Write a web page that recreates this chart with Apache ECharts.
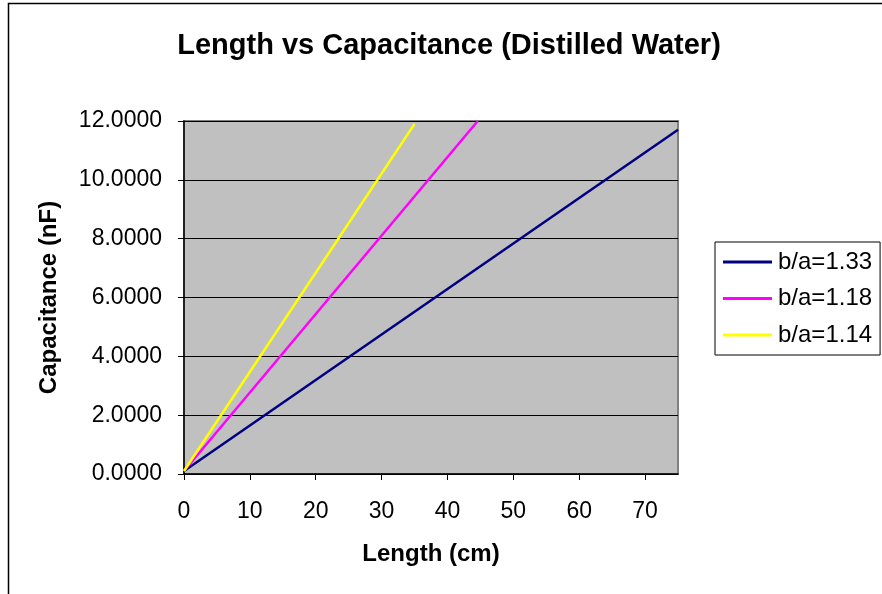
<!DOCTYPE html>
<html><head><meta charset="utf-8">
<script src="https://cdn.jsdelivr.net/npm/echarts@6/dist/echarts.min.js"></script>
<style>html,body{margin:0;padding:0;background:#fff}#c{width:882px;height:594px}</style>
</head><body><div id="c"></div>
<script>
const seriesNames = ['b/a=1.33', 'b/a=1.18', 'b/a=1.14'];
const lengths133 = [0, 75];
const cap133 = [0.1, 11.7];
const lengths118 = [0, 44.6];
const cap118 = [0.1, 12.0];
const lengths114 = [0, 35.0];
const cap114 = [0.1, 11.9];
const colors = ['#000080', '#ff00ff', '#ffff00'];

const pairs = (xs, ys) => xs.map((x, i) => [x, ys[i]]);
const dataSets = [pairs(lengths133, cap133), pairs(lengths118, cap118), pairs(lengths114, cap114)];
const font = '"Liberation Sans", Arial, sans-serif';

const chart = echarts.init(document.getElementById('c'), null, {renderer: 'canvas'});
chart.setOption({
  animation: false,
  textStyle: {fontFamily: font},
  title: {
    text: 'Length vs Capacitance (Distilled Water)',
    left: 444, textAlign: 'center', top: 26,
    textStyle: {fontFamily: font, fontSize: 29, fontWeight: 'bold', color: '#000'}
  },
  graphic: [{
    type: 'rect', left: 6, top: 1, silent: true,
    shape: {x: 0, y: 0, width: 900, height: 700},
    style: {fill: 'none', stroke: '#000', lineWidth: 1.5}
  }],
  grid: {left: 184, top: 121, width: 494, height: 353, show: true,
         backgroundColor: '#c0c0c0', borderColor: '#808080', borderWidth: 2},
  legend: {
    orient: 'vertical', left: 715, top: 242,
    data: seriesNames,
    icon: 'rect',
    itemWidth: 49, itemHeight: 3, itemGap: 12.5,
    padding: [8, 8, 8, 8],
    borderColor: '#000', borderWidth: 1, backgroundColor: '#fff',
    textStyle: {fontFamily: font, fontSize: 24, color: '#000', padding: [0, 0, 0, 1]}
  },
  xAxis: {
    type: 'value', min: 0, max: 75, interval: 10,
    name: 'Length (cm)', nameLocation: 'middle', nameGap: 68,
    nameTextStyle: {fontFamily: font, fontSize: 24, fontWeight: 'bold', color: '#000'},
    axisLine: {lineStyle: {color: '#000', width: 1.5}},
    axisTick: {show: true, length: 6, lineStyle: {color: '#000'}},
    axisLabel: {fontFamily: font, fontSize: 23, color: '#000', margin: 26, showMaxLabel: false},
    splitLine: {show: false}
  },
  yAxis: {
    type: 'value', min: 0, max: 12, interval: 2,
    name: 'Capacitance (nF)', nameLocation: 'middle', nameGap: 123, nameRotate: 90,
    nameTextStyle: {fontFamily: font, fontSize: 24, fontWeight: 'bold', color: '#000'},
    axisLine: {lineStyle: {color: '#000', width: 1.5}},
    axisTick: {show: true, length: 6, lineStyle: {color: '#000'}},
    axisLabel: {fontFamily: font, fontSize: 23, color: '#000', margin: 22,
                formatter: v => v.toFixed(4)},
    splitLine: {show: true, lineStyle: {color: '#000', width: 1}}
  },
  series: seriesNames.map((n, i) => ({
    name: n, type: 'line', data: dataSets[i], symbol: 'none', showSymbol: false,
    lineStyle: {color: colors[i], width: 2.5}, itemStyle: {color: colors[i]}
  }))
});
</script></body></html>
